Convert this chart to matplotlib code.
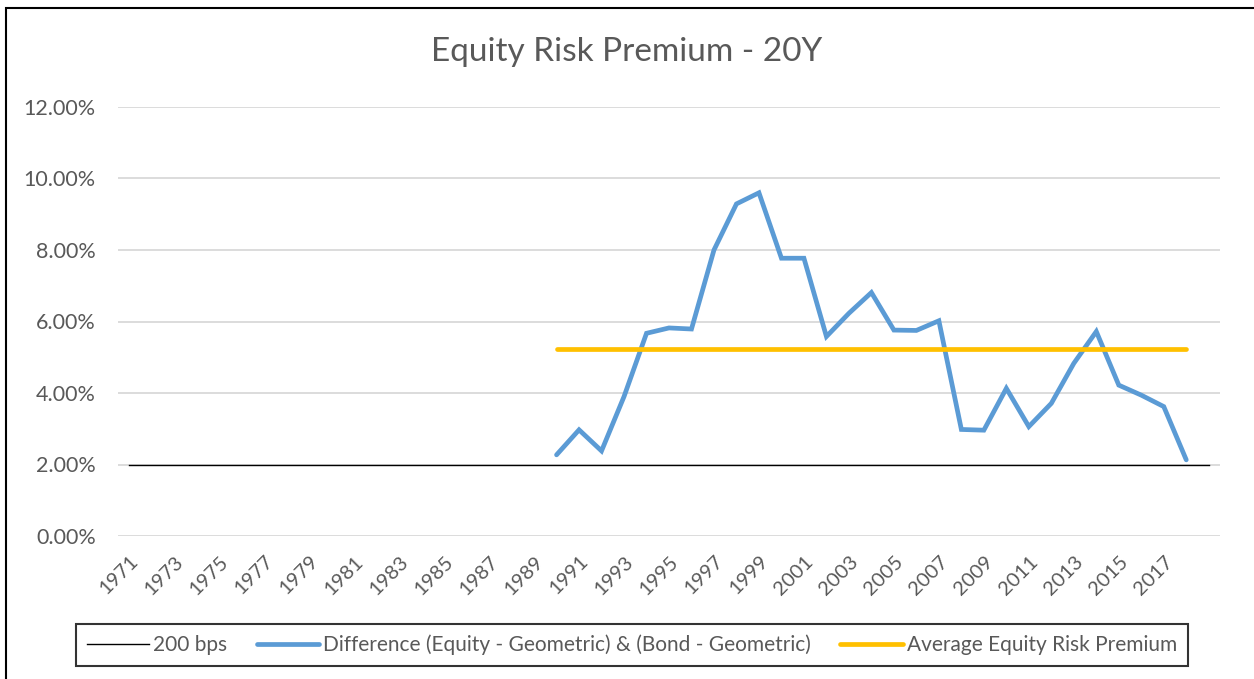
import matplotlib
matplotlib.use("Agg")
import matplotlib.pyplot as plt
from matplotlib.ticker import FuncFormatter
from matplotlib.patches import Rectangle

plt.rcParams['font.family'] = ['Lato', 'DejaVu Sans']

years = list(range(1971, 2020))
erp_years = list(range(1990, 2019))
erp_values = [2.27, 2.97, 2.38, 3.90, 5.67, 5.82, 5.79, 8.00, 9.29, 9.60,
              7.77, 7.77, 5.58, 6.23, 6.81, 5.76, 5.75, 6.02, 2.98, 2.96,
              4.13, 3.06, 3.71, 4.83, 5.72, 4.22, 3.94, 3.62, 2.13]
avg_erp = 5.22
threshold = 2.00
y_ticks = [0, 2, 4, 6, 8, 10, 12]

text_color = '#595959'
blue = '#5b9bd5'
gold = '#ffc000'

fig = plt.figure(figsize=(12.54, 6.79), dpi=100)
ax = fig.add_axes([118 / 1254, 1 - 536 / 679, (1220 - 118) / 1254, (536 - 107) / 679])

x_all = [years.index(y) for y in years]
x_erp = [years.index(y) for y in erp_years]

ax.plot(x_all, [threshold / 100] * len(years), color='black', linewidth=1.0,
        label='200 bps', zorder=3)
ax.plot(x_erp, [v / 100 for v in erp_values], color=blue, linewidth=3.4,
        solid_capstyle='round', solid_joinstyle='miter',
        label='Difference (Equity - Geometric) & (Bond - Geometric)', zorder=4)
ax.plot(x_erp, [avg_erp / 100] * len(erp_years), color=gold, linewidth=3.4,
        solid_capstyle='round', label='Average Equity Risk Premium', zorder=5)

ax.set_xlim(-0.5, len(years) - 0.5)
ax.set_ylim(0, 0.12)
ax.set_yticks([t / 100 for t in y_ticks])
ax.yaxis.set_major_formatter(FuncFormatter(lambda v, p: f"{v * 100:.2f}%"))
ax.grid(axis='y', color='#d9d9d9', linewidth=1.3)
ax.set_axisbelow(True)
for s in ax.spines.values():
    s.set_visible(False)

label_years = years[:-1:2]
ax.set_xticks([years.index(y) for y in label_years])
ax.set_xticklabels([str(y) for y in label_years], rotation=45, ha='right',
                   rotation_mode='anchor')
ax.tick_params(axis='both', length=0, colors=text_color)
ax.tick_params(axis='y', pad=16, labelsize=15.5)
ax.tick_params(axis='x', pad=12, labelsize=14.5)

fig.text(0.5, 1 - 52 / 679, 'Equity Risk Premium - 20Y', ha='center', va='center',
         fontsize=24, color=text_color)

leg = fig.legend(loc='center', bbox_to_anchor=(632 / 1254, 1 - 645 / 679), ncol=3,
                 frameon=True, fancybox=False, edgecolor='black', fontsize=15,
                 handlelength=3.0, handletextpad=0.2, columnspacing=1.4,
                 borderpad=0.5)
leg.get_frame().set_linewidth(1.5)
for t in leg.get_texts():
    t.set_color(text_color)

fig.patches.append(Rectangle((6 / 1254, -0.1), 1.2, 1 - 8 / 679 + 0.1,
                             transform=fig.transFigure, fill=False,
                             edgecolor='black', linewidth=1.5))

fig.savefig('out.png', dpi=100)
